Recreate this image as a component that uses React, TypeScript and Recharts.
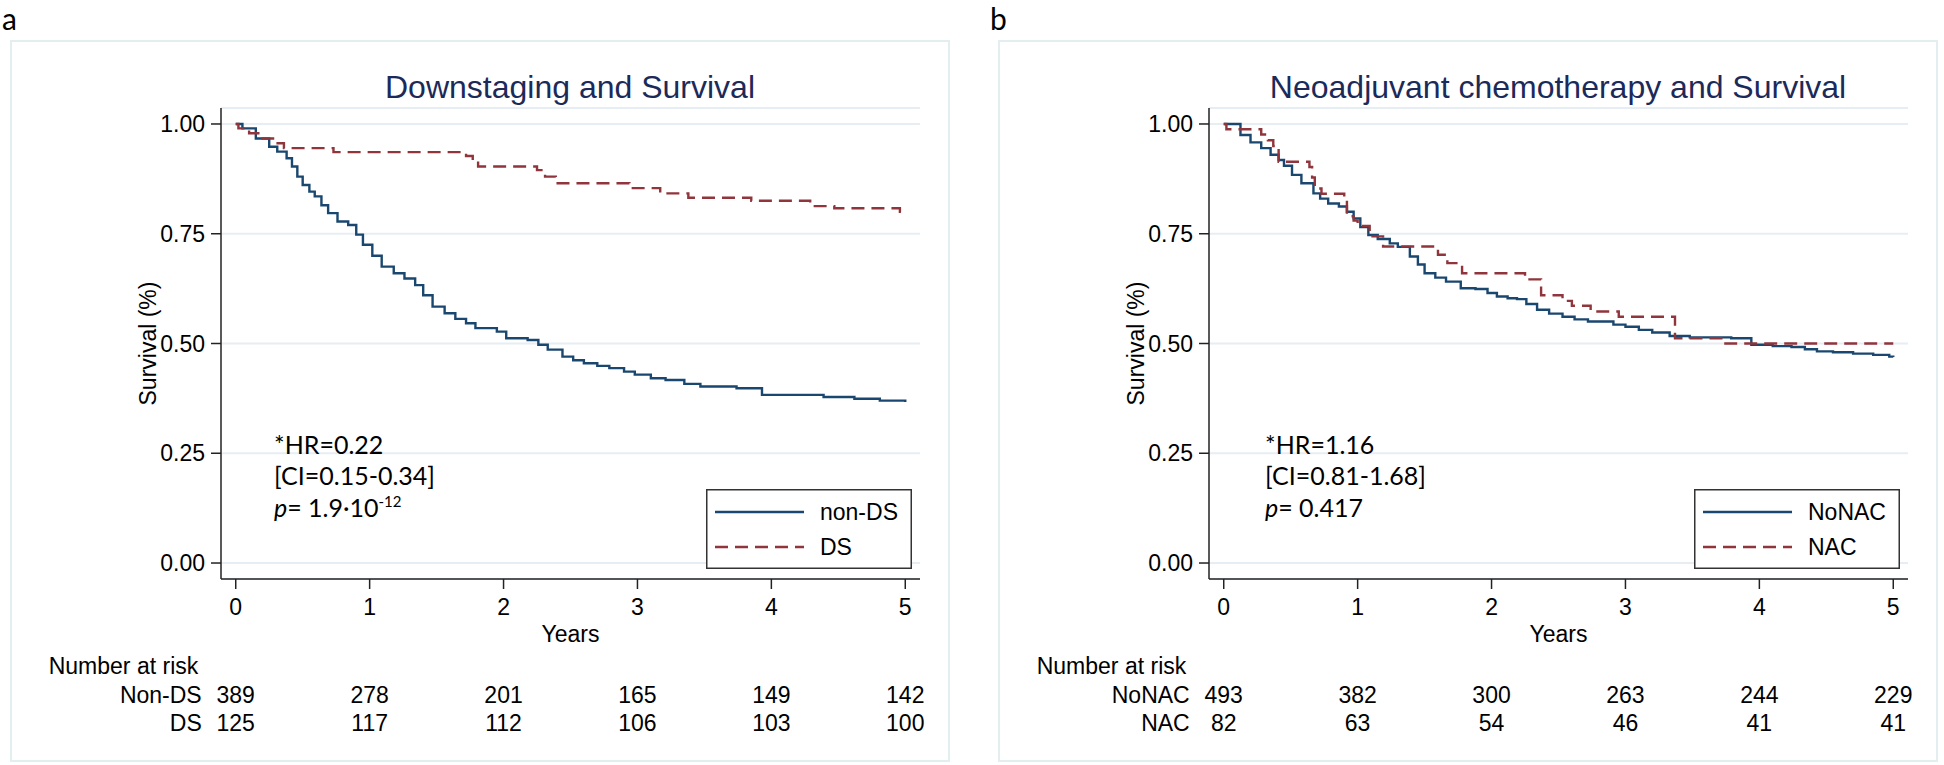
import { LineChart, Line, XAxis, YAxis, CartesianGrid, Legend, Label, Customized } from "recharts";

const years = [0, 1, 2, 3, 4, 5];
const survivalTicks = [0, 0.25, 0.5, 0.75, 1];

// panel a - downstaging
const nonDsTime = [0, 0.05, 0.15, 0.25, 0.31, 0.38, 0.42, 0.46, 0.5, 0.55, 0.59, 0.64, 0.69, 0.76, 0.84, 0.9, 0.95, 1.02, 1.09, 1.18, 1.26, 1.34, 1.4, 1.47, 1.56, 1.64, 1.72, 1.79, 1.95, 2.02, 2.18, 2.26, 2.33, 2.44, 2.52, 2.6, 2.7, 2.79, 2.9, 2.98, 3.1, 3.21, 3.35, 3.47, 3.74, 3.93, 4.39, 4.62, 4.81, 5];
const nonDsSurv = [1, 0.99, 0.967, 0.948, 0.937, 0.922, 0.903, 0.88, 0.861, 0.846, 0.835, 0.815, 0.797, 0.778, 0.77, 0.748, 0.725, 0.7, 0.675, 0.66, 0.648, 0.633, 0.61, 0.584, 0.569, 0.556, 0.546, 0.535, 0.527, 0.512, 0.508, 0.497, 0.486, 0.47, 0.462, 0.455, 0.449, 0.444, 0.436, 0.429, 0.421, 0.417, 0.408, 0.402, 0.398, 0.383, 0.378, 0.374, 0.37, 0.367];
const dsTime = [0, 0.02, 0.1, 0.19, 0.3, 0.36, 0.73, 1.72, 1.77, 1.81, 2.25, 2.31, 2.39, 2.94, 3.17, 3.38, 3.85, 4.29, 4.47, 4.96, 5];
const dsSurv = [1, 0.99, 0.979, 0.967, 0.956, 0.945, 0.936, 0.927, 0.915, 0.903, 0.895, 0.88, 0.865, 0.854, 0.842, 0.832, 0.825, 0.813, 0.808, 0.8, 0.8];
const nonDsAtRisk = [389, 278, 201, 165, 149, 142];
const dsAtRisk = [125, 117, 112, 106, 103, 100];

// panel b - neoadjuvant chemotherapy
const noNacTime = [0, 0.125, 0.2, 0.28, 0.35, 0.41, 0.45, 0.51, 0.58, 0.67, 0.72, 0.78, 0.86, 0.92, 0.97, 1.02, 1.08, 1.15, 1.24, 1.3, 1.39, 1.45, 1.5, 1.58, 1.66, 1.77, 1.88, 1.97, 2.04, 2.12, 2.19, 2.26, 2.34, 2.43, 2.53, 2.62, 2.72, 2.91, 3.0, 3.1, 3.2, 3.33, 3.48, 3.79, 3.94, 4.1, 4.24, 4.34, 4.43, 4.55, 4.7, 4.85, 4.97, 5];
const noNacSurv = [1, 0.975, 0.958, 0.945, 0.93, 0.918, 0.905, 0.884, 0.865, 0.842, 0.83, 0.819, 0.812, 0.8, 0.785, 0.765, 0.747, 0.738, 0.728, 0.72, 0.698, 0.68, 0.66, 0.65, 0.641, 0.626, 0.624, 0.615, 0.607, 0.603, 0.601, 0.59, 0.577, 0.568, 0.561, 0.555, 0.55, 0.543, 0.538, 0.531, 0.525, 0.517, 0.514, 0.512, 0.497, 0.494, 0.492, 0.487, 0.482, 0.48, 0.477, 0.474, 0.47, 0.469];
const nacTime = [0, 0.02, 0.28, 0.33, 0.37, 0.41, 0.64, 0.66, 0.68, 0.73, 0.9, 0.92, 0.97, 1.0, 1.09, 1.19, 1.6, 1.67, 1.78, 2.25, 2.37, 2.53, 2.6, 2.74, 2.95, 3.37, 3.73, 5];
const nacSurv = [1, 0.988, 0.976, 0.963, 0.95, 0.914, 0.902, 0.878, 0.853, 0.841, 0.829, 0.79, 0.78, 0.768, 0.744, 0.721, 0.702, 0.683, 0.66, 0.646, 0.61, 0.597, 0.586, 0.573, 0.561, 0.512, 0.5, 0.5];
const noNacAtRisk = [493, 382, 300, 263, 244, 229];
const nacAtRisk = [82, 63, 54, 46, 41, 41];

const NAVY = "#1a476f";
const MAROON = "#90353b";
const FONT = "'Liberation Sans', Arial, sans-serif";
const NOTE_FONT = "Lato, 'Open Sans', sans-serif";
const CHART_W = 940;
const CHART_H = 722;

type Series = { name: string; time: number[]; surv: number[]; color: string; dash?: string };
type RiskRow = { label: string; values: number[] };
type Notes = { hr: string; ci: string; p: string; pExp?: string };

const toPoints = (time: number[], surv: number[]) => time.map((t, i) => ({ t, s: surv[i] }));

const LegendBox = ({ series }: { series: Series[] }) => (
  <svg width={206} height={80} style={{ display: "block" }}>
    <rect x={0.75} y={0.75} width={204.5} height={78.5} fill="#fff" stroke="#333" strokeWidth={1.5} />
    {series.map((s, i) => (
      <g key={s.name}>
        <line x1={9} x2={98} y1={23 + 35 * i} y2={23 + 35 * i} stroke={s.color} strokeWidth={2.4} strokeDasharray={s.dash} />
        <text x={114} y={23 + 35 * i} dominantBaseline="central" fontFamily={FONT} fontSize={23} fill="#000">
          {s.name}
        </text>
      </g>
    ))}
  </svg>
);

function Panel(props: {
  left: number;
  letter: string;
  title: string;
  series: Series[];
  riskRows: RiskRow[];
  notes: Notes;
  notesX: number;
}) {
  const { left, letter, title, series, riskRows, notes, notesX } = props;

  const renderTick = (tp: any) => {
    const { x, y, payload, index } = tp;
    return (
      <g fontFamily={FONT} fontSize={23} fill="#000">
        <text x={x} y={y} dy="0.71em" textAnchor="middle">{payload.value}</text>
        {index === 0 && (
          <text x={x - 187} y={y + 75}>Number at risk</text>
        )}
        {riskRows.map((row, r) => (
          <g key={row.label}>
            {index === 0 && (
              <text x={x - 34} y={y + 104 + r * 28} textAnchor="end">{row.label}</text>
            )}
            <text x={x} y={y + 104 + r * 28} textAnchor="middle">{row.values[index]}</text>
          </g>
        ))}
      </g>
    );
  };

  return (
    <>
      <div style={{ position: "absolute", left: left - 8, top: 0, lineHeight: "36px", fontFamily: NOTE_FONT, fontSize: 30, color: "#000" }}>
        {letter}
      </div>
      <div style={{ position: "absolute", left, top: 40, width: CHART_W, height: CHART_H }}>
        <LineChart width={CHART_W} height={CHART_H} margin={{ top: 68, right: 30, bottom: 0, left: 0 }}>
          <CartesianGrid vertical={false} stroke="#e6eef3" strokeWidth={2} />
          <XAxis
            type="number"
            dataKey="t"
            domain={[-0.11, 5.11]}
            ticks={years}
            allowDataOverflow
            height={183}
            tickSize={10}
            tickMargin={10}
            stroke="#222"
            strokeWidth={1.5}
            tick={renderTick}
          >
            <Label
              content={(lp: any) => {
                const vb = lp.viewBox;
                return (
                  <text x={vb.x + vb.width / 2} y={vb.y + 63} textAnchor="middle" fontFamily={FONT} fontSize={23} fill="#000">
                    Years
                  </text>
                );
              }}
            />
          </XAxis>
          <YAxis
            type="number"
            domain={[-0.0364, 1.0364]}
            ticks={survivalTicks}
            allowDataOverflow
            width={211}
            tickSize={10}
            tickMargin={6}
            stroke="#222"
            strokeWidth={1.5}
            tickFormatter={(v: number) => v.toFixed(2)}
            tick={{ fontFamily: FONT, fontSize: 23, fill: "#000" }}
          >
            <Label
              content={(lp: any) => {
                const vb = lp.viewBox;
                const cy = vb.y + vb.height / 2;
                return (
                  <text x={138} y={cy} transform={`rotate(-90 138 ${cy})`} textAnchor="middle" dominantBaseline="central" fontFamily={FONT} fontSize={23} fill="#000">
                    Survival (%)
                  </text>
                );
              }}
            />
          </YAxis>
          {series.map((s) => (
            <Line
              key={s.name}
              name={s.name}
              data={toPoints(s.time, s.surv)}
              dataKey="s"
              type="stepAfter"
              stroke={s.color}
              strokeWidth={2.4}
              strokeDasharray={s.dash}
              dot={false}
              activeDot={false}
              isAnimationActive={false}
            />
          ))}
          <Legend
            layout="vertical"
            align="center"
            verticalAlign="middle"
            wrapperStyle={{ left: 696, top: 449, width: 206, height: 80 }}
            content={() => <LegendBox series={series} />}
          />
          <Customized
            component={() => (
              <g>
                <text x={560} y={58} textAnchor="middle" fontFamily={FONT} fontSize={32} fill="#1c2a5a">
                  {title}
                </text>
                <g fontFamily={NOTE_FONT} fontSize={25} fill="#000">
                  <text x={notesX} y={414}>{notes.hr}</text>
                  <text x={notesX} y={445}>{notes.ci}</text>
                  <text x={notesX} y={477}>
                    <tspan fontStyle="italic">p</tspan>
                    <tspan>{"= " + notes.p}</tspan>
                    {notes.pExp && (
                      <tspan dy={-10} fontSize={15}>{notes.pExp}</tspan>
                    )}
                  </text>
                </g>
              </g>
            )}
          />
        </LineChart>
      </div>
      <div
        style={{
          position: "absolute",
          left,
          top: 40,
          width: CHART_W,
          height: CHART_H,
          boxSizing: "border-box",
          border: "2px solid #e3eef0",
          pointerEvents: "none",
        }}
      />
    </>
  );
}

export default function App() {
  const seriesA: Series[] = [
    { name: "non-DS", time: nonDsTime, surv: nonDsSurv, color: NAVY },
    { name: "DS", time: dsTime, surv: dsSurv, color: MAROON, dash: "13 7" },
  ];
  const seriesB: Series[] = [
    { name: "NoNAC", time: noNacTime, surv: noNacSurv, color: NAVY },
    { name: "NAC", time: nacTime, surv: nacSurv, color: MAROON, dash: "13 7" },
  ];
  return (
    <div style={{ position: "absolute", left: 0, top: 0, width: 1944, height: 765, background: "#fff", overflow: "hidden" }}>
      <Panel
        left={10}
        letter="a"
        title="Downstaging and Survival"
        series={seriesA}
        riskRows={[
          { label: "Non-DS", values: nonDsAtRisk },
          { label: "DS", values: dsAtRisk },
        ]}
        notes={{ hr: "*HR=0.22", ci: "[CI=0.15-0.34]", p: "1.9·10", pExp: "-12" }}
        notesX={264}
      />
      <Panel
        left={998}
        letter="b"
        title="Neoadjuvant chemotherapy and Survival"
        series={seriesB}
        riskRows={[
          { label: "NoNAC", values: noNacAtRisk },
          { label: "NAC", values: nacAtRisk },
        ]}
        notes={{ hr: "*HR=1.16", ci: "[CI=0.81-1.68]", p: "0.417" }}
        notesX={267}
      />
    </div>
  );
}
